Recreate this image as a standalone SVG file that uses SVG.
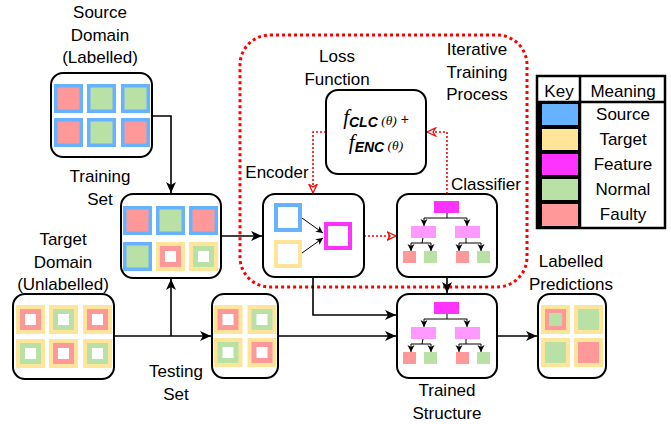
<svg xmlns="http://www.w3.org/2000/svg" xmlns:xlink="http://www.w3.org/1999/xlink" width="671" height="424" viewBox="0 0 671 424">
<style>
.lbl{font-family:"Liberation Sans",Arial,sans-serif;font-size:17px;fill:#000;text-anchor:middle}
.box{fill:#fff;stroke:#000;stroke-width:2}
.conn{fill:none;stroke:#000;stroke-width:1.6}
.thin{fill:none;stroke:#000;stroke-width:1}
.red{fill:none;stroke:#f00;stroke-width:1.6;stroke-dasharray:2 2}
</style>
<defs>
<marker id="ah" markerUnits="userSpaceOnUse" markerWidth="12" markerHeight="10" refX="11" refY="5" orient="auto"><path d="M0,0 L11,5 L0,10 L3,5 z" fill="#000"/></marker>
<marker id="ahs" markerUnits="userSpaceOnUse" markerWidth="8" markerHeight="8" refX="7" refY="4" orient="auto"><path d="M0,0.5 L7,4 L0,7.5 L2,4 z" fill="#000"/></marker>
<marker id="aho" markerUnits="userSpaceOnUse" markerWidth="11" markerHeight="10" refX="9.5" refY="5" orient="auto"><path d="M1,1 L9.5,5 L1,9 L3.5,5 z" fill="#fff" stroke="#f00" stroke-width="1.3"/></marker>
<g id="sn"><rect width="29" height="29" fill="#66B2FF"/><rect x="3.5" y="3.5" width="22" height="22" fill="#B9E0A5"/></g>
<g id="sf"><rect width="29" height="29" fill="#66B2FF"/><rect x="3.5" y="3.5" width="22" height="22" fill="#FF9999"/></g>
<g id="tn"><rect width="29" height="29" fill="#FFE599"/><rect x="4" y="4" width="21" height="21" fill="#B9E0A5"/><rect x="9" y="9" width="11" height="11" fill="#fff"/></g>
<g id="tf"><rect width="29" height="29" fill="#FFE599"/><rect x="4" y="4" width="21" height="21" fill="#FF9999"/><rect x="9" y="9" width="11" height="11" fill="#fff"/></g>
<g id="pfn"><rect width="29" height="29" fill="#FFE599"/><rect x="4" y="4" width="21" height="21" fill="#FF9999"/><rect x="8" y="8" width="13" height="13" fill="#B9E0A5"/></g>
<g id="pn"><rect width="29" height="29" fill="#FFE599"/><rect x="4" y="4" width="21" height="21" fill="#B9E0A5"/></g>
<g id="pf"><rect width="29" height="29" fill="#FFE599"/><rect x="4" y="4" width="21" height="21" fill="#FF9999"/></g>
<g id="tree">
<rect x="37" y="7" width="25" height="12" fill="#FF33FF"/>
<path class="thin" d="M50,19 V24 M27,24 H70"/>
<path class="thin" d="M27,24 V32" marker-end="url(#ahs)"/>
<path class="thin" d="M70,24 V32" marker-end="url(#ahs)"/>
<rect x="14" y="32" width="25" height="12" fill="#FF99FF"/>
<rect x="58" y="32" width="25" height="12" fill="#FF99FF"/>
<path class="thin" d="M26,44 L25,49 M14,49 H34 M69,44 V49 M62,49 H84"/>
<path class="thin" d="M14,49 V57" marker-end="url(#ahs)"/>
<path class="thin" d="M34,49 V57" marker-end="url(#ahs)"/>
<path class="thin" d="M62,49 V57" marker-end="url(#ahs)"/>
<path class="thin" d="M84,49 V57" marker-end="url(#ahs)"/>
<rect x="6" y="57" width="13" height="12" fill="#FF9999"/>
<rect x="27" y="57" width="13" height="12" fill="#B9E0A5"/>
<rect x="59" y="57" width="13" height="12" fill="#FF9999"/>
<rect x="80" y="57" width="13" height="12" fill="#B9E0A5"/>
</g>
</defs>

<rect id="iterative-process" x="240" y="35" width="287" height="252" rx="30" fill="none" stroke="#f00" stroke-width="3" stroke-dasharray="3 3"/>
<text class="lbl"><tspan x="477" y="55">Iterative</tspan><tspan x="477" y="77.5">Training</tspan><tspan x="477" y="100">Process</tspan></text>

<g id="connectors">
<path class="conn" d="M152,116 H171 V193" marker-end="url(#ah)"/>
<path class="conn" d="M114,336 H211" marker-end="url(#ah)"/>
<path class="conn" d="M171,336 V279" marker-end="url(#ah)"/>
<path class="conn" d="M221,236 H262" marker-end="url(#ah)"/>
<path class="conn" d="M278,336 H396" marker-end="url(#ah)"/>
<path class="conn" d="M313,277 V315 H396" marker-end="url(#ah)"/>
<path class="conn" d="M447,277 V293" marker-end="url(#ah)"/>
<path class="conn" d="M497,336 H537" marker-end="url(#ah)"/>
<path class="red" d="M364,236 H396" marker-end="url(#aho)"/>
<path class="red" d="M326,132 H313 V193" marker-end="url(#aho)"/>
<path class="red" d="M447,194 V132 H427" marker-end="url(#aho)"/>
</g>

<g id="source-domain">
<text class="lbl"><tspan x="100" y="18">Source</tspan><tspan x="100" y="40.5">Domain</tspan><tspan x="100" y="63">(Labelled)</tspan></text>
<rect class="box" x="51" y="73" width="101" height="84" rx="12"/>
<use href="#sf" x="54" y="84"/><use href="#sn" x="87" y="84"/><use href="#sn" x="121" y="84"/>
<use href="#sf" x="54" y="118"/><use href="#sn" x="87" y="118"/><use href="#sf" x="121" y="118"/>
</g>

<g id="training-set">
<text class="lbl"><tspan x="100" y="182">Training</tspan><tspan x="100" y="204.5">Set</tspan></text>
<rect class="box" x="121" y="194" width="100" height="84" rx="12"/>
<use href="#sf" x="123" y="206"/><use href="#sn" x="156" y="206"/><use href="#sf" x="189" y="206"/>
<use href="#sn" x="123" y="242"/><use href="#tf" x="156" y="242"/><use href="#tn" x="189" y="242"/>
</g>

<g id="target-domain">
<text class="lbl"><tspan x="63" y="245">Target</tspan><tspan x="63" y="267.5">Domain</tspan><tspan x="63" y="290">(Unlabelled)</tspan></text>
<rect class="box" x="13" y="294" width="101" height="85" rx="12"/>
<use href="#tf" x="16" y="305"/><use href="#tn" x="49" y="305"/><use href="#tf" x="83" y="305"/>
<use href="#tn" x="16" y="339"/><use href="#tf" x="49" y="339"/><use href="#tn" x="83" y="339"/>
</g>

<g id="testing-set">
<text class="lbl"><tspan x="176" y="377">Testing</tspan><tspan x="176" y="399.5">Set</tspan></text>
<rect class="box" x="212" y="294" width="66" height="84" rx="12"/>
<use href="#tf" x="213.5" y="305"/><use href="#tn" x="247.5" y="305"/>
<use href="#tn" x="213.5" y="338"/><use href="#tf" x="247.5" y="338"/>
</g>

<g id="loss-function">
<text class="lbl"><tspan x="337" y="62">Loss</tspan><tspan x="337" y="84.5">Function</tspan></text>
<rect class="box" x="326" y="90" width="100" height="84" rx="12"/>
<text x="376" y="124" text-anchor="middle" font-family="'Liberation Sans',Arial,sans-serif"><tspan font-family="'Liberation Serif',serif" font-style="italic" font-size="21">f</tspan><tspan font-weight="bold" font-style="italic" font-size="14" dy="3">CLC</tspan><tspan font-family="'Liberation Serif',serif" font-style="italic" font-size="13.5" dy="-2"> (θ)</tspan><tspan font-size="14" dy="-1"> +</tspan></text>
<text x="376" y="149" text-anchor="middle" font-family="'Liberation Sans',Arial,sans-serif"><tspan font-family="'Liberation Serif',serif" font-style="italic" font-size="21">f</tspan><tspan font-weight="bold" font-style="italic" font-size="14" dy="3">ENC</tspan><tspan font-family="'Liberation Serif',serif" font-style="italic" font-size="13.5" dy="-2"> (θ)</tspan></text>
</g>

<g id="encoder">
<text class="lbl" x="277" y="178">Encoder</text>
<rect class="box" x="263" y="194" width="101" height="83" rx="12"/>
<rect x="276" y="205" width="24" height="25" fill="none" stroke="#66B2FF" stroke-width="4"/>
<rect x="276" y="242" width="24" height="24" fill="none" stroke="#FFE599" stroke-width="4"/>
<rect x="326" y="224" width="24" height="24" fill="none" stroke="#FF33FF" stroke-width="4"/>
<path class="thin" d="M302,218 L323,233" marker-end="url(#ahs)"/>
<path class="thin" d="M302,253 L323,238" marker-end="url(#ahs)"/>
</g>

<g id="classifier">
<text class="lbl" x="486" y="190">Classifier</text>
<rect class="box" x="397" y="194" width="100" height="83" rx="12"/>
<use href="#tree" x="397" y="194"/>
</g>

<g id="trained-structure">
<rect class="box" x="397" y="294" width="100" height="84" rx="12"/>
<use href="#tree" x="397" y="295"/>
<text class="lbl"><tspan x="447" y="396">Trained</tspan><tspan x="447" y="418.5">Structure</tspan></text>
</g>

<g id="labelled-predictions">
<text class="lbl"><tspan x="571" y="267">Labelled</tspan><tspan x="571" y="289.5">Predictions</tspan></text>
<rect class="box" x="538" y="294" width="68" height="84" rx="12"/>
<use href="#pfn" x="541" y="305"/><use href="#pn" x="574" y="305"/>
<use href="#pn" x="541" y="338"/><use href="#pf" x="574" y="338"/>
</g>

<g id="key">
<rect x="537" y="76" width="128" height="152" fill="#fff" stroke="#000" stroke-width="2.5"/>
<rect x="537" y="102" width="43" height="126" fill="#000"/>
<path d="M537,102 H665 M580,76 V228" stroke="#000" stroke-width="2.5" fill="none"/>
<rect x="542" y="104" width="36" height="21" fill="#66B2FF"/>
<rect x="542" y="129" width="36" height="21" fill="#FFE599"/>
<rect x="542" y="154" width="36" height="21" fill="#FF33FF"/>
<rect x="542" y="179" width="36" height="21" fill="#B9E0A5"/>
<rect x="542" y="204" width="36" height="22" fill="#FF9999"/>
<text class="lbl" x="559" y="97">Key</text>
<text class="lbl" x="623" y="97">Meaning</text>
<text class="lbl" x="623" y="120">Source</text>
<text class="lbl" x="623" y="145">Target</text>
<text class="lbl" x="623" y="170">Feature</text>
<text class="lbl" x="623" y="195">Normal</text>
<text class="lbl" x="623" y="220">Faulty</text>
</g>
</svg>
